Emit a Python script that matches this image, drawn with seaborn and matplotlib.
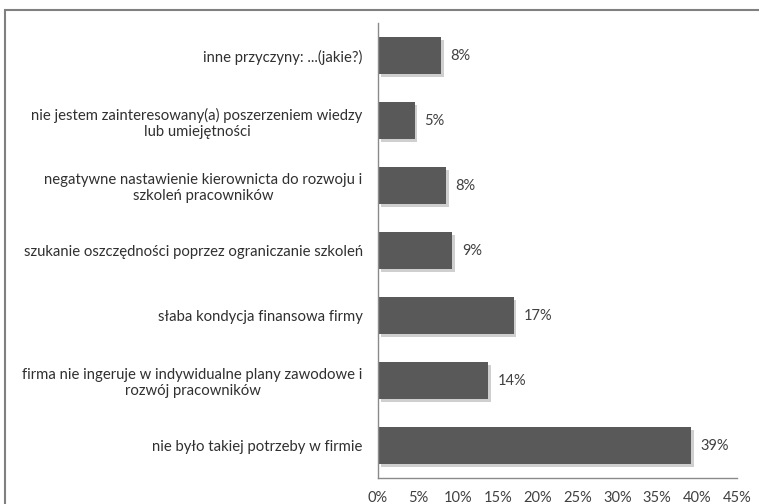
import matplotlib
matplotlib.use("Agg")
import matplotlib.pyplot as plt
import matplotlib.patheffects as pe
import seaborn as sns
import pandas as pd

categories = [
    "inne przyczyny: ...(jakie?)",
    "nie jestem zainteresowany(a) poszerzeniem wiedzy\nlub umiejętności",
    "negatywne nastawienie kierownicta do rozwoju i\nszkoleń pracowników",
    "szukanie oszczędności poprzez ograniczanie szkoleń",
    "słaba kondycja finansowa firmy",
    "firma nie ingeruje w indywidualne plany zawodowe i\nrozwój pracowników",
    "nie było takiej potrzeby w firmie",
]
values = [8, 5, 8, 9, 17, 14, 39]
value_labels = ["8%", "5%", "8%", "9%", "17%", "14%", "39%"]
xticks = [0, 5, 10, 15, 20, 25, 30, 35, 40, 45]
xtick_labels = ["0%", "5%", "10%", "15%", "20%", "25%", "30%", "35%", "40%", "45%"]

# bar lengths (labels are rounded)
bar_lengths = [7.9, 4.6, 8.5, 9.3, 17.0, 13.8, 39.2]

df = pd.DataFrame({"cat": categories, "val": bar_lengths})

sns.set_theme(style="white")
plt.rcParams["font.family"] = ["Lato", "DejaVu Sans"]

fig = plt.figure(figsize=(7.59, 5.04), dpi=100)
ax = fig.add_axes([378 / 759, 1 - 478 / 504, (737 - 378) / 759, (478 - 23) / 504])

sns.barplot(data=df, y="cat", x="val", orient="h", color="#595959",
            width=0.57, ax=ax, saturation=1)

for p in ax.patches:
    p.set_edgecolor("none")
    p.set_path_effects([pe.SimplePatchShadow(offset=(2, -2), shadow_rgbFace="#cfcfcf", alpha=1.0),
                        pe.Normal()])

ax.bar_label(ax.containers[0], labels=value_labels, padding=7,
             fontsize=10.5, color="#404040")

ax.set_xlim(0, 45)
ax.set_xticks(xticks)
ax.set_xticklabels(xtick_labels, fontsize=10.5, color="#404040")
ax.tick_params(axis="x", length=0, pad=9)
ax.tick_params(axis="y", length=0, pad=11)
for lbl in ax.get_yticklabels():
    lbl.set_fontsize(10.7)
    lbl.set_color("#303030")
    lbl.set_horizontalalignment("right")
    lbl.set_multialignment("center")
ax.set_xlabel("")
ax.set_ylabel("")

for s in ["top", "right"]:
    ax.spines[s].set_visible(False)
for s in ["left", "bottom"]:
    ax.spines[s].set_color("#8a8a8a")
    ax.spines[s].set_linewidth(1.0)

# figure border
border = plt.Rectangle((5 / 759, -0.05), 1.2, 1 - 10 / 504 + 0.05,
                       transform=fig.transFigure, fill=False,
                       edgecolor="#808080", linewidth=1.5)
fig.patches.append(border)

fig.savefig("out.png", dpi=100)
